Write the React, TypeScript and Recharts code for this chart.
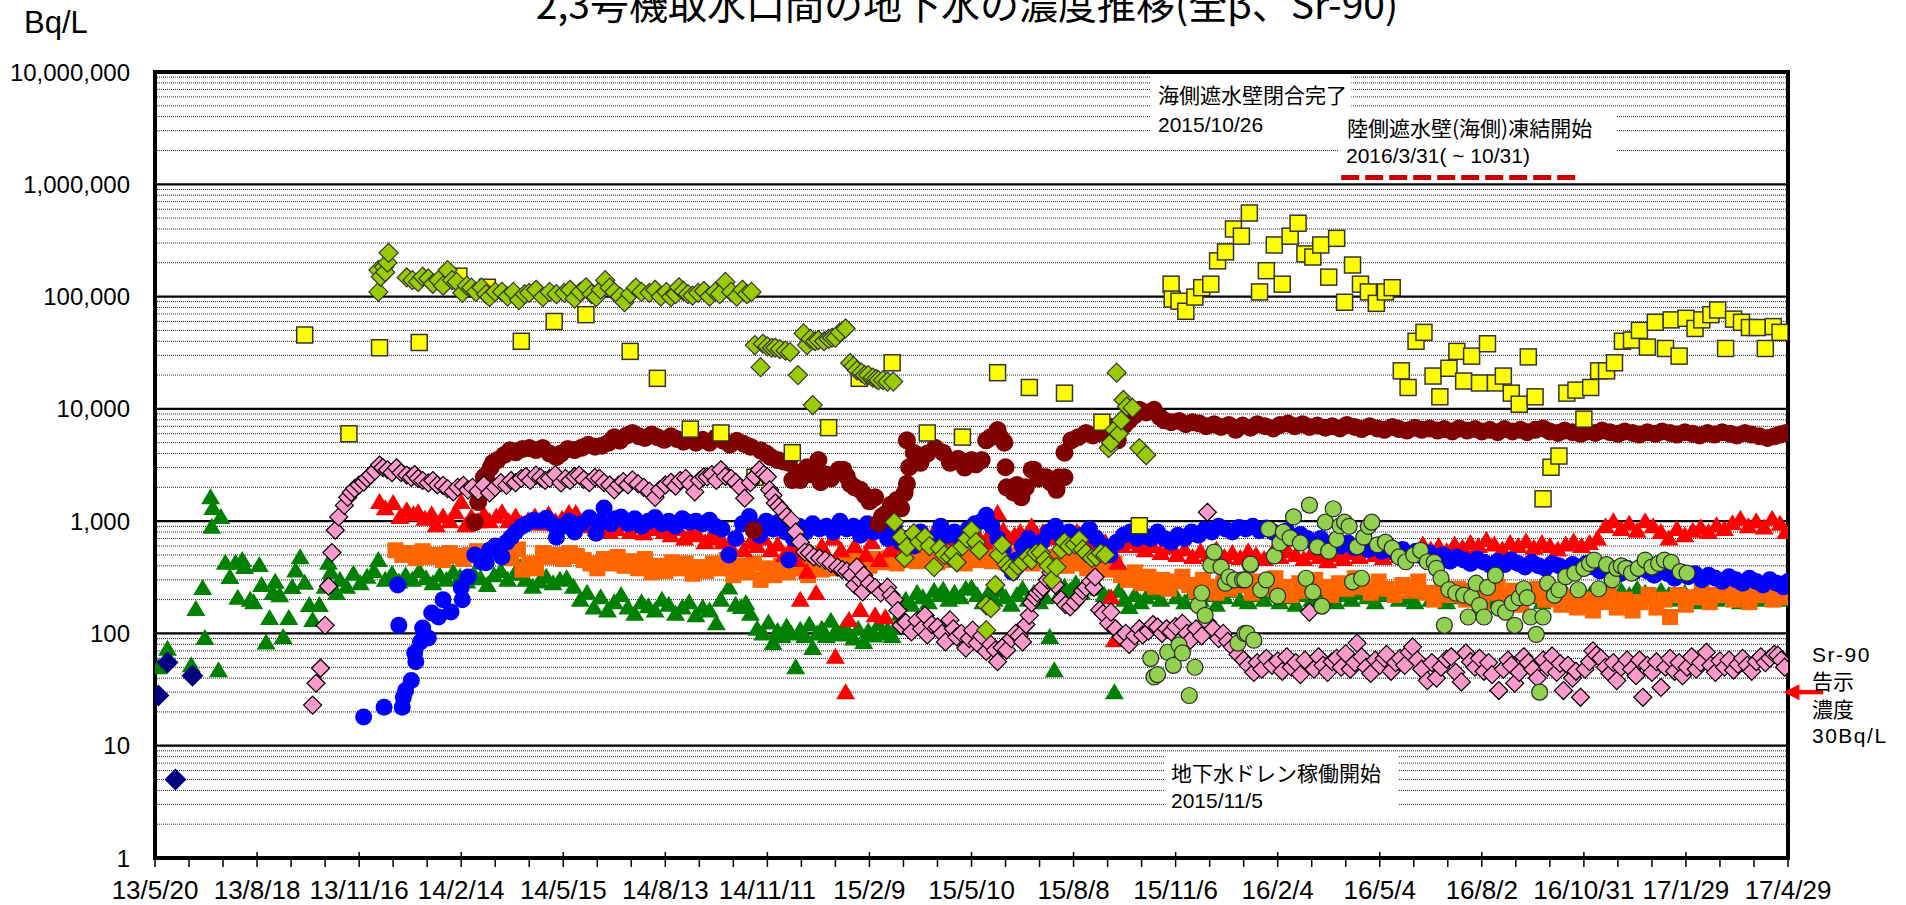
import {
  ScatterChart,
  Scatter,
  XAxis,
  YAxis,
  CartesianGrid,
  ReferenceArea,
  ReferenceLine,
} from "recharts"

// x = days since 2013/5/20, y = Bq/L
const xLabels = ["13/5/20", "13/8/18", "13/11/16", "14/2/14", "14/5/15", "14/8/13", "14/11/11", "15/2/9", "15/5/10",
  "15/8/8", "15/11/6", "16/2/4", "16/5/4", "16/8/2", "16/10/31", "17/1/29", "17/4/29"]
const dayTicks = Array.from({ length: 49 }, (_, i) => i * 30)
const decades = [1, 10, 100, 1000, 10000, 100000, 1000000]
const yTicks = [...decades.flatMap((d) => [1, 2, 3, 4, 5, 6, 7, 8, 9].map((m) => m * d)), 10000000]

const navyPts = [[3, 28], [11, 55], [18, 5], [33, 42]]

const greenPts = [[3, 50], [11, 73], [32, 52], [36, 165], [42, 254], [44, 91], [49, 1630], [50, 890], [51, 1310], [56, 47], [58, 1090], [62, 427], [66, 318], [71, 427], [73, 208], [77, 450], [79, 390], [84, 200], [87, 190], [92, 407], [94, 270], [98, 83], [101, 137], [104, 229], [106, 288], [110, 219], [113, 93], [118, 137], [121, 259], [124, 363], [128, 478], [132, 282], [136, 179], [139, 132], [145, 179], [150, 260], [153, 427], [155, 350], [160, 229],
  [163, 300], [169, 260], [175, 340], [181, 280], [187, 320], [193, 360], [197, 450], [203, 300], [209, 340], [215, 290], [221, 330], [227, 300], [233, 360], [239, 310], [245, 280], [251, 330], [257, 300], [263, 350], [269, 320], [275, 290], [281, 340], [287, 310], [293, 270], [299, 330], [305, 360], [311, 300], [317, 340], [322, 390], [327, 300], [333, 260], [339, 290], [345, 320], [351, 280], [357, 300], [363, 310], [369, 260],
  [375, 200], [381, 230], [387, 170], [393, 210], [399, 160], [405, 190], [411, 220], [417, 170], [423, 150], [429, 190], [435, 175], [441, 160], [447, 200], [453, 180], [459, 150], [465, 170], [471, 190], [477, 145], [483, 170], [489, 160], [495, 123], [499, 200], [506, 257], [512, 180], [517, 172], [521, 187], [525, 150],
  [531, 110], [536, 100], [541, 125], [545, 82], [549, 105], [553, 95], [557, 115], [561, 100], [565, 50], [569, 108], [573, 95], [577, 120], [580, 74], [584, 100], [588, 110], [592, 95], [596, 130], [600, 105], [604, 98], [608, 115], [612, 100], [616, 90], [620, 110], [625, 84], [629, 105], [634, 96], [638, 120], [642, 100], [646, 108], [650, 95], [653, 112],
  [657, 150], [662, 200], [667, 180], [672, 230], [677, 210], [682, 190], [687, 240], [692, 220], [695, 245], [700, 200], [705, 230], [710, 210], [715, 250], [720, 257], [725, 220], [730, 190], [735, 230], [740, 200], [745, 240], [750, 210], [755, 180], [760, 220], [765, 250], [770, 200], [775, 230], [780, 190], [785, 210], [789, 93], [793, 47], [797, 220],
  [802, 260], [807, 240], [812, 280], [817, 230], [822, 260], [827, 300], [832, 250], [837, 220], [841, 210], [846, 30], [850, 240], [855, 200], [859, 172], [864, 220], [869, 190], [874, 210], [880, 230], [887, 200], [894, 250], [901, 210], [908, 190], [915, 230], [922, 200], [929, 220], [936, 180], [943, 210], [950, 240], [957, 200], [964, 190], [971, 220], [978, 200], [985, 230], [992, 190], [999, 210],
  [1006, 180], [1013, 220], [1020, 200], [1027, 240], [1034, 210], [1041, 190], [1048, 220], [1055, 200], [1062, 230], [1069, 210], [1076, 190], [1083, 220], [1090, 240], [1097, 200], [1104, 210], [1111, 190], [1118, 230], [1125, 200], [1132, 220], [1139, 190], [1146, 210], [1153, 240], [1160, 200], [1167, 220], [1174, 190], [1181, 210], [1188, 230], [1195, 200],
  [1202, 220], [1209, 240], [1216, 210], [1223, 190], [1230, 220], [1237, 200], [1244, 230], [1251, 210], [1258, 240], [1265, 220], [1272, 250], [1279, 230], [1286, 210], [1293, 240], [1300, 220], [1307, 250], [1314, 230], [1321, 210], [1328, 240], [1335, 220], [1342, 200], [1349, 230], [1356, 210], [1363, 190], [1370, 220], [1377, 200], [1384, 230], [1391, 210], [1398, 190], [1405, 220], [1412, 200], [1419, 230], [1426, 210], [1433, 200], [1438, 220]]

const redPts = [[198, 1480], [203, 1300], [210, 1450], [216, 1090], [222, 1250], [228, 1150], [232, 1200], [238, 1050], [244, 1150], [248, 920], [254, 1100], [260, 1000], [265, 1200], [270, 1480], [274, 920], [279, 1090], [285, 1000], [290, 1150], [295, 1000], [301, 1100], [306, 1200], [312, 1000], [318, 1100], [323, 950], [329, 1020], [335, 1100], [341, 950], [347, 1150], [353, 1000], [359, 1050], [365, 1180], [371, 1180],
  [377, 900], [383, 1000], [389, 850], [395, 900], [401, 800], [407, 850], [413, 950], [419, 800], [425, 900], [431, 780], [437, 850], [443, 900], [449, 800], [455, 750], [461, 850], [467, 700], [473, 800], [479, 750], [485, 650], [490, 720],
  [495, 700], [501, 650], [507, 600], [513, 750], [519, 550], [525, 650], [531, 600], [537, 700], [543, 550], [549, 620], [555, 500], [561, 580], [566, 450], [569, 200], [575, 355], [579, 520], [583, 229], [588, 600], [593, 480], [598, 700], [600, 62], [605, 550], [609, 30], [612, 132], [617, 600], [622, 162], [627, 500], [632, 650], [635, 145], [639, 450], [644, 139], [648, 550], [652, 600],
  [657, 650], [662, 700], [667, 600], [672, 750], [677, 650], [682, 700], [687, 800], [692, 650], [697, 700], [702, 750], [707, 650], [712, 700], [717, 800], [722, 750], [727, 700], [732, 650], [737, 800], [743, 1180], [748, 830], [753, 700], [758, 750], [763, 800], [768, 700], [773, 900], [778, 750], [783, 800], [788, 700], [793, 750], [798, 850], [803, 700], [808, 750], [813, 800], [818, 700], [823, 650], [828, 750], [833, 700], [838, 650], [843, 210], [846, 87], [849, 427], [853, 600], [858, 700], [863, 650], [868, 600], [873, 550],
  [880, 600], [887, 520], [894, 580], [901, 500], [908, 560], [915, 480], [922, 540], [929, 500], [936, 560], [943, 480], [950, 520], [957, 470], [964, 540], [971, 500], [978, 460], [985, 520], [992, 480], [999, 540], [1006, 500], [1013, 460], [1020, 520], [1027, 480], [1034, 440], [1041, 500], [1048, 460], [1055, 520], [1062, 480], [1069, 540], [1076, 500], [1083, 470], [1090, 520], [1097, 490], [1104, 550], [1111, 500],
  [1118, 620], [1125, 560], [1132, 600], [1139, 540], [1146, 620], [1153, 580], [1160, 640], [1167, 600], [1174, 680], [1181, 620], [1188, 560], [1195, 640], [1202, 600], [1209, 660], [1216, 580], [1223, 640], [1230, 600], [1237, 560], [1244, 620], [1251, 660], [1258, 600], [1265, 640], [1272, 700],
  [1279, 900], [1286, 1000], [1293, 850], [1300, 950], [1307, 820], [1314, 1000], [1321, 900], [1328, 800], [1335, 700], [1342, 850], [1349, 750], [1356, 820], [1363, 880], [1370, 800], [1377, 920], [1384, 850], [1391, 960], [1398, 1050], [1405, 900], [1412, 1000], [1419, 880], [1426, 1050], [1433, 950], [1438, 800]]

const orangePts = [[212, 550], [218, 500], [224, 520], [230, 470], [236, 540], [242, 480], [248, 500], [254, 450], [260, 520], [266, 490], [272, 460], [278, 500], [284, 540], [290, 480], [296, 520], [302, 560], [308, 500], [314, 470], [320, 560], [324, 370], [330, 420], [336, 380], [342, 520], [348, 480], [354, 500], [360, 460], [366, 520], [372, 490], [378, 450], [384, 420], [390, 380], [396, 460], [402, 420], [408, 480], [414, 400], [420, 440], [426, 380], [432, 460], [438, 350], [444, 400], [450, 360], [456, 430], [462, 380], [468, 420], [474, 340], [480, 390], [486, 360],
  [492, 420], [498, 380], [504, 450], [510, 330], [516, 400], [522, 350], [528, 420], [534, 300], [540, 380], [546, 330], [552, 400], [558, 350], [564, 420], [570, 380], [576, 330], [582, 400], [588, 370], [594, 430], [600, 380], [606, 450], [612, 400], [618, 470], [624, 420], [630, 400], [636, 460], [642, 430], [648, 470], [654, 420], [660, 450],
  [666, 480], [672, 440], [678, 500], [684, 460], [690, 430], [696, 490], [702, 450], [708, 470], [714, 420], [720, 480], [726, 450], [732, 500], [738, 440], [744, 470], [750, 430], [756, 460], [762, 500], [768, 450], [774, 420], [780, 470], [786, 440], [792, 480], [798, 430], [804, 400], [810, 450], [816, 420], [822, 380], [828, 430], [834, 400], [840, 370], [846, 420],
  [852, 330], [858, 300], [864, 350], [870, 280], [876, 320], [882, 260], [888, 300], [894, 250], [900, 290], [906, 320], [912, 270], [918, 240], [924, 300], [930, 260], [936, 230], [942, 280], [948, 250], [954, 300], [960, 270], [967, 230], [974, 290], [981, 250], [988, 310], [995, 260], [1002, 220], [1009, 280], [1016, 240], [1023, 300], [1030, 260], [1037, 220], [1044, 280], [1051, 250], [1058, 310], [1065, 260], [1072, 230], [1079, 290], [1086, 250], [1093, 220], [1100, 270], [1107, 240], [1114, 290],
  [1121, 230], [1128, 200], [1135, 260], [1142, 220], [1149, 250], [1156, 200], [1163, 240], [1170, 190], [1177, 230], [1184, 260], [1191, 210], [1198, 240], [1205, 180], [1212, 220], [1219, 250], [1226, 200], [1233, 230], [1240, 180], [1247, 210], [1254, 170], [1261, 200], [1268, 160], [1275, 190], [1282, 220], [1289, 170], [1296, 200], [1303, 160], [1310, 190], [1317, 220], [1324, 170], [1331, 200], [1336, 140],
  [1343, 220], [1350, 180], [1357, 210], [1364, 240], [1371, 190], [1378, 220], [1385, 250], [1392, 200], [1399, 230], [1406, 190], [1413, 220], [1420, 250], [1427, 200], [1434, 230], [1439, 210]]

const bluePts = [[184, 18], [202, 22], [214, 270], [215, 118], [218, 22], [219, 27], [221, 31], [226, 38], [229, 67], [230, 56], [234, 84], [236, 112], [241, 91], [244, 152], [250, 140], [254, 200], [261, 155], [270, 257], [271, 200], [276, 318], [282, 500], [288, 430], [292, 427], [295, 550], [300, 600], [306, 480], [310, 650], [314, 720], [318, 800], [323, 890], [328, 950], [334, 1020], [339, 1000], [345, 1060], [350, 950], [354, 720], [360, 900], [365, 1000], [370, 800], [376, 950], [383, 1070], [389, 780], [393, 1000], [396, 1310], [402, 950], [406, 1050], [411, 1090],
  [417, 950], [423, 1050], [429, 900], [435, 1000], [441, 1080], [447, 950], [453, 1000], [459, 900], [465, 1050], [471, 980], [477, 1000], [483, 950], [489, 1020], [494, 900], [500, 850], [506, 500], [512, 700], [518, 950], [524, 1100], [528, 900], [533, 750], [539, 1000], [545, 850], [551, 1000], [556, 800], [559, 450], [563, 700], [568, 900], [574, 800], [580, 950], [586, 850], [592, 900], [598, 800], [604, 1000], [610, 850], [616, 900], [622, 750], [628, 950], [634, 800], [640, 850], [646, 700], [652, 900], [658, 650],
  [663, 700], [669, 600], [675, 800], [681, 650], [687, 700], [693, 900], [699, 750], [705, 800], [711, 650], [717, 850], [723, 950], [729, 1000], [733, 1130], [738, 900], [743, 700], [748, 550], [752, 400], [756, 350], [760, 450], [765, 600], [770, 700], [776, 550], [782, 650], [788, 800], [794, 900], [800, 700], [806, 800], [812, 650], [818, 750], [824, 850], [830, 700], [836, 600], [842, 500], [848, 650], [854, 750], [860, 800], [866, 700], [872, 750], [878, 700], [884, 800], [890, 700], [896, 650],
  [902, 750], [908, 700], [914, 800], [920, 750], [926, 850], [932, 800], [938, 900], [944, 850], [950, 800], [956, 880], [962, 850], [968, 900], [974, 820], [980, 870], [986, 800], [992, 760], [998, 820], [1004, 720], [1010, 760], [1016, 700], [1022, 650], [1028, 700], [1034, 620], [1040, 660], [1046, 600], [1052, 640], [1058, 580], [1064, 620], [1070, 560], [1076, 600], [1082, 540], [1088, 580], [1094, 520], [1100, 560], [1106, 500], [1112, 540], [1118, 480], [1124, 520], [1130, 460], [1136, 500], [1142, 440], [1148, 480],
  [1154, 450], [1160, 420], [1166, 460], [1172, 430], [1178, 400], [1184, 440], [1190, 410], [1196, 450], [1202, 420], [1208, 390], [1214, 430], [1220, 400], [1226, 380], [1232, 420], [1235, 52], [1238, 400], [1244, 370], [1250, 410], [1256, 380], [1262, 420], [1268, 390], [1274, 360], [1280, 400], [1286, 370], [1292, 340], [1298, 380], [1304, 350], [1310, 390], [1316, 360], [1322, 330], [1328, 370], [1334, 340], [1340, 310], [1346, 350], [1352, 320], [1358, 340], [1364, 300], [1370, 330], [1376, 310], [1382, 290], [1388, 320], [1394, 300], [1400, 280], [1406, 310], [1412, 290], [1418, 270], [1424, 300], [1430, 280], [1436, 260], [1440, 290]]

const pinkPts = [[139, 23], [142, 36], [146, 49], [150, 118], [153, 263], [156, 525], [159, 830], [162, 1090], [167, 1380], [170, 1630], [173, 1800], [176, 1950], [180, 2100], [184, 2220], [187, 2400], [190, 2570], [194, 2800], [198, 3160], [201, 3000], [205, 2870], [209, 2700], [213, 2990], [217, 2700], [222, 2570], [226, 2450], [229, 2600], [232, 2400], [236, 2300], [241, 2190], [245, 2300], [249, 2100], [254, 2080], [258, 1950], [263, 1820], [267, 2000], [272, 2080], [276, 1900], [280, 2000], [285, 1850], [290, 2100], [295, 1780], [300, 2000],
  [305, 2200], [310, 2080], [314, 2300], [318, 2200], [323, 2400], [327, 2500], [331, 2300], [336, 2570], [340, 2450], [344, 2300], [348, 2400], [353, 2600], [358, 2190], [362, 2400], [366, 2300], [370, 2500], [374, 2570], [378, 2350], [383, 2200], [388, 2450], [392, 2400], [396, 2200], [401, 2100], [405, 1900], [409, 2100], [413, 2250], [417, 2100], [421, 2330], [426, 2150], [431, 2000], [436, 1850], [441, 1630], [445, 1900], [450, 2100], [455, 2220], [459, 2050], [463, 2300], [468, 2400], [472, 2150], [476, 1820], [480, 2300], [484, 2480],
  [487, 2480], [491, 2600], [495, 2300], [499, 2870], [503, 2500], [508, 2400], [512, 2220], [516, 2000], [520, 1600], [525, 2200], [529, 2500], [533, 2870], [537, 2600], [540, 2480], [542, 1900], [545, 1700], [547, 1450], [550, 1350], [553, 1250], [557, 1100], [561, 1020], [565, 800], [569, 650], [573, 530], [577, 520], [581, 480], [586, 470], [591, 450], [596, 420], [602, 390], [606, 370], [610, 360], [614, 330], [617, 270], [619, 390], [622, 300], [624, 234], [625, 330], [630, 280], [635, 257], [640, 230], [646, 257], [649, 220], [652, 200], [655, 160],
  [658, 118], [662, 125], [667, 103], [672, 130], [676, 110], [679, 145], [681, 97], [685, 120], [690, 114], [694, 100], [697, 84], [701, 132], [704, 110], [707, 93], [711, 100], [715, 74], [718, 90], [721, 107], [725, 82], [729, 95], [733, 69], [737, 80], [741, 71], [743, 56], [747, 75], [751, 71], [755, 90], [759, 100], [762, 95], [765, 84], [768, 120], [771, 145], [773, 187], [776, 210], [778, 230], [781, 240], [783, 257], [787, 300], [790, 350], [794, 270], [799, 200], [803, 180], [807, 172], [811, 190], [815, 210], [818, 240], [821, 257], [825, 290], [828, 257], [829, 318],
  [833, 162], [836, 150], [841, 123], [843, 155], [847, 110], [852, 93], [856, 100], [859, 80], [864, 95], [868, 110], [871, 97], [876, 105], [880, 120], [884, 114], [888, 100], [892, 110], [896, 103], [900, 115], [906, 123], [910, 100], [913, 87], [918, 110], [923, 95], [928, 1200], [928, 126], [933, 110], [938, 90], [942, 100], [946, 85], [950, 76], [955, 65], [960, 58], [964, 52], [969, 45],
  [972, 55], [976, 48], [980, 60], [985, 52], [990, 57], [994, 46], [998, 62], [1002, 50], [1006, 55], [1010, 43], [1014, 58], [1018, 155], [1022, 48], [1026, 62], [1030, 52], [1034, 45], [1038, 56], [1042, 60], [1046, 50], [1050, 66], [1054, 48], [1058, 55], [1060, 82], [1064, 62], [1068, 50], [1072, 44], [1076, 58], [1080, 52], [1084, 60], [1086, 65], [1090, 46], [1094, 55], [1098, 60], [1102, 52], [1106, 68], [1109, 76], [1113, 58], [1117, 48], [1122, 38], [1126, 55], [1130, 40], [1134, 50], [1139, 59], [1143, 62], [1147, 45], [1152, 37], [1156, 67], [1160, 56], [1164, 50], [1168, 60], [1172, 46], [1176, 55], [1179, 43], [1185, 31], [1189, 48], [1193, 58], [1196, 52], [1199, 36],
  [1203, 45], [1207, 62], [1211, 55], [1215, 48], [1219, 40], [1224, 58], [1228, 50], [1232, 63], [1236, 45], [1239, 54], [1242, 31], [1246, 52], [1250, 40], [1253, 46], [1257, 27], [1261, 48], [1265, 56], [1268, 70], [1271, 64], [1275, 60], [1279, 50], [1283, 44], [1286, 55], [1289, 38], [1293, 50], [1298, 58], [1302, 48], [1306, 42], [1309, 58], [1312, 27], [1316, 52], [1320, 45], [1324, 56], [1328, 33], [1332, 50], [1336, 60], [1340, 46], [1344, 55], [1347, 42], [1351, 50], [1355, 62], [1359, 48], [1363, 55], [1368, 68], [1372, 52], [1376, 45], [1380, 57], [1384, 50], [1388, 58], [1392, 47], [1396, 53], [1400, 60], [1404, 52], [1408, 46], [1412, 56], [1416, 62], [1420, 55], [1424, 60], [1428, 65], [1431, 64], [1434, 58], [1437, 50]]

const darkRedPts = [[282, 980], [285, 1480], [290, 2460], [292, 2570], [296, 3000], [298, 3310], [302, 3500], [308, 3890], [313, 4270], [318, 4100], [324, 4400], [330, 4470], [336, 4300], [342, 4470], [348, 4000], [354, 3720], [358, 4000], [364, 4400], [370, 4300], [376, 4500], [382, 4800], [388, 4600], [394, 4700], [400, 5000], [405, 5600], [410, 5200], [416, 5800], [421, 6100], [427, 5700], [432, 5500], [438, 5900], [443, 5600], [449, 5300], [455, 5700], [460, 5400], [466, 5100], [471, 5400], [477, 5000], [483, 5300], [489, 5000], [495, 5600], [501, 5200], [507, 4800], [513, 5200], [519, 4900], [525, 4600], [528, 830],
  [534, 4270], [539, 4000], [543, 3720], [549, 3500], [554, 3400], [559, 3310], [562, 2320], [566, 2700], [569, 2320], [575, 3020], [580, 2600], [585, 3500], [587, 2220], [592, 2600], [596, 2400], [603, 2870], [607, 2870], [610, 2500], [613, 2150], [617, 2000], [622, 1900], [626, 1700], [630, 1500], [635, 1630], [638, 960], [641, 1100], [645, 1180], [649, 1400], [654, 1540], [658, 1300], [661, 1780], [663, 2150],
  [663, 5250], [665, 3020], [669, 4070], [675, 3310], [681, 4000], [688, 4500], [695, 4070], [701, 3310], [708, 3600], [714, 3000], [720, 3500], [724, 3200], [729, 3500], [733, 5250], [737, 5600], [743, 6480], [746, 5500], [749, 5000], [750, 3020], [751, 2000], [757, 1800], [760, 2100], [764, 1630], [768, 2000], [773, 2870], [775, 2870], [779, 2400], [783, 2460], [786, 2460], [790, 2200], [795, 1900], [797, 2460], [802, 2460],
  [802, 4070], [808, 5250], [814, 5600], [821, 6100], [827, 5800], [833, 6100], [838, 6500], [843, 6900], [849, 5250], [855, 7200], [859, 7900], [864, 8800], [868, 9800], [874, 9300], [881, 9800], [886, 8500], [890, 7900], [896, 7600], [903, 7800], [909, 7300], [915, 7600], [921, 7400], [927, 7000], [934, 7300], [940, 6900], [947, 7200], [953, 6500], [959, 7100], [966, 6800], [972, 7300], [979, 7000], [986, 6700], [992, 7200], [999, 7400],
  [1005, 7000], [1012, 7300], [1018, 6900], [1025, 7100], [1032, 6800], [1038, 7000], [1045, 6700], [1051, 7200], [1058, 6900], [1064, 6600], [1071, 7000], [1078, 6700], [1084, 6500], [1091, 6900], [1097, 6600], [1104, 6400], [1111, 6800], [1117, 6500], [1124, 6700], [1131, 6400], [1137, 6600], [1144, 6300], [1150, 6700], [1157, 6400], [1164, 6600], [1170, 6300], [1177, 6500], [1184, 6200], [1190, 6600], [1197, 6300],
  [1204, 6500], [1210, 6200], [1217, 6500], [1224, 6700], [1230, 6300], [1237, 6100], [1243, 6400], [1250, 6200], [1257, 6000], [1263, 6300], [1270, 6100], [1276, 6400], [1283, 6200], [1290, 6000], [1296, 6300], [1303, 6100], [1309, 5900], [1316, 6200], [1323, 6000], [1329, 6300], [1336, 6100], [1342, 5900], [1349, 6200], [1356, 6000], [1362, 5800], [1369, 6100], [1375, 5900], [1382, 6200], [1389, 6000], [1395, 5800], [1402, 6100], [1408, 5900], [1415, 5700], [1422, 5500], [1428, 5700], [1433, 5900], [1438, 6100]]

const ygPts = [[197, 110000], [197, 172000], [199, 150000], [202, 183000], [203, 165000], [205, 200000], [206, 245000], [222, 148000], [227, 140000], [232, 135000], [236, 150000], [241, 145000], [245, 130000], [250, 140000], [254, 125000], [258, 172000], [262, 140000], [266, 135000], [271, 108000], [275, 125000], [279, 120000], [283, 110000], [288, 120000], [292, 105000], [295, 99000], [300, 110000], [306, 110000], [311, 100000], [316, 110000], [321, 93000], [326, 105000], [330, 108000], [336, 115000], [342, 99000], [348, 110000], [354, 105000],
  [361, 108000], [366, 115000], [370, 96000], [375, 110000], [380, 121000], [385, 105000], [389, 99000], [393, 115000], [397, 140000], [401, 120000], [405, 110000], [410, 100000], [414, 89000], [419, 105000], [424, 120000], [429, 110000], [436, 108000], [441, 115000], [446, 100000], [451, 110000], [455, 99000], [459, 105000], [462, 121000], [466, 112000], [470, 105000], [474, 102000], [479, 108000], [484, 112000], [489, 100000], [494, 110000], [498, 105000], [503, 135000], [508, 110000], [513, 100000], [518, 115000], [522, 105000], [526, 110000],
  [529, 37000], [534, 23500], [536, 38000], [540, 36000], [544, 35000], [547, 35000], [551, 34000], [556, 33000], [560, 32000], [567, 20000], [572, 47000], [575, 37000], [578, 42000], [580, 10800], [582, 40000], [585, 41000], [590, 40000], [594, 42000], [597, 43000], [600, 43000], [604, 48000], [609, 52000], [613, 25600], [616, 24000], [619, 22000], [623, 21000], [626, 20000], [629, 20000], [633, 19000], [636, 18500], [638, 18000], [642, 18000], [646, 17500], [651, 17500],
  [652, 980], [658, 720], [661, 470], [663, 590], [669, 780], [674, 650], [679, 720], [683, 600], [687, 390], [692, 575], [696, 500], [701, 480], [704, 520], [707, 430], [712, 600], [716, 700], [720, 830], [724, 650], [727, 550], [733, 178], [733, 107], [737, 168], [741, 270], [744, 500], [747, 615], [751, 410], [754, 380], [757, 355], [761, 400], [765, 430], [770, 480], [773, 450], [777, 520], [781, 525], [785, 450], [788, 400], [791, 300], [795, 390], [799, 560], [802, 650], [806, 600], [811, 620], [815, 680], [818, 560], [821, 520], [826, 470], [830, 480], [834, 520], [838, 500],
  [841, 4470], [843, 5000], [846, 6480], [848, 21000], [850, 6000], [852, 7900], [854, 12000], [857, 10500], [862, 10200], [868, 4470], [874, 3870]]

const yellowPts = [[132, 45500], [171, 6000], [198, 35000], [233, 39000], [268, 152000], [293, 121000], [323, 40000], [352, 60000], [380, 69000], [419, 32500], [443, 18700], [472, 6600], [499, 6100], [529, 2460], [562, 4070], [594, 6800], [621, 18700], [650, 25700], [681, 6100], [712, 5600], [743, 21000], [771, 15500], [802, 13800], [835, 7600], [868, 910],
  [896, 129000], [897, 95000], [903, 91000], [909, 74000], [917, 99000], [923, 120000], [931, 129000], [937, 208000], [944, 250000], [951, 400000], [958, 345000], [965, 555000], [974, 110000], [980, 170000], [987, 288000], [994, 129000], [1001, 345000], [1008, 450000], [1014, 240000], [1021, 225000], [1028, 288000], [1035, 149000], [1042, 330000], [1049, 89000], [1056, 191000], [1063, 129000], [1070, 110000], [1077, 87000], [1085, 110000], [1091, 120000],
  [1099, 21800], [1105, 15500], [1112, 40000], [1119, 48000], [1127, 19600], [1133, 12800], [1141, 23000], [1148, 32500], [1154, 17700], [1161, 29500], [1168, 17000], [1175, 38000], [1182, 17000], [1189, 19600], [1196, 13800], [1203, 11000], [1211, 29000], [1217, 12800], [1224, 1580], [1231, 3020], [1238, 3800], [1245, 13800], [1253, 14700], [1260, 8100], [1266, 15500], [1273, 21800], [1280, 21800], [1287, 25700],
  [1294, 40000], [1302, 41000], [1309, 50000], [1316, 35500], [1323, 59000], [1332, 34500], [1337, 62000], [1344, 29500], [1350, 64000], [1358, 52000], [1364, 62000], [1372, 69000], [1378, 76000], [1385, 34500], [1392, 63000], [1399, 59000], [1406, 53000], [1413, 53000], [1420, 34500], [1427, 54000], [1433, 48000]]

const lightGreenPts = [[878, 60], [881, 41], [884, 43], [893, 68], [898, 52], [903, 79], [906, 67], [912, 28], [917, 50], [920, 178], [923, 229], [926, 145], [931, 405], [934, 530], [940, 390], [944, 280], [947, 318], [952, 300], [955, 82], [959, 300], [961, 100], [961, 300], [963, 100], [966, 405], [966, 415], [969, 87], [975, 245], [980, 300], [982, 850], [987, 490], [990, 215], [992, 640], [995, 800],
  [1001, 710], [1004, 1090], [1010, 640], [1015, 310], [1018, 1390], [1021, 234], [1025, 590], [1029, 175], [1032, 980], [1035, 540], [1039, 1290], [1042, 690], [1045, 910], [1049, 980], [1053, 900], [1056, 288], [1060, 590], [1064, 310], [1066, 720], [1070, 900], [1073, 980], [1078, 615], [1085, 650], [1091, 575], [1097, 480], [1103, 435], [1110, 500], [1116, 550], [1122, 435], [1128, 430], [1130, 380], [1134, 310], [1137, 118], [1141, 245], [1147, 229],
  [1154, 219], [1158, 140], [1161, 210], [1165, 280], [1168, 178], [1172, 140], [1175, 257], [1182, 330], [1185, 168], [1191, 155], [1197, 187], [1199, 118], [1203, 208], [1207, 250], [1210, 208], [1213, 140], [1218, 98], [1221, 30], [1224, 140], [1228, 280], [1234, 219], [1238, 245], [1244, 320], [1252, 345], [1255, 245], [1260, 380], [1265, 420], [1269, 450], [1273, 250], [1280, 410], [1285, 300], [1289, 380], [1293, 400], [1297, 380], [1302, 345], [1308, 380], [1314, 450], [1320, 390], [1326, 420], [1331, 450], [1337, 430], [1345, 355], [1351, 345]]

const toXY = (pts: number[][]) => pts.map(([x, y]) => ({ x, y }))

const latin = "'Liberation Sans', Arial, sans-serif"
const cjk = "'Noto Sans CJK JP', sans-serif"

const tri = (fill: string) => (p: any) => (
  <polygon points={`${p.cx},${p.cy - 9} ${p.cx + 9.5},${p.cy + 7} ${p.cx - 9.5},${p.cy + 7}`} fill={fill} />
)
const diamond = (fill: string, r: number, stroke?: string) => (p: any) => (
  <polygon
    points={`${p.cx},${p.cy - r} ${p.cx + r},${p.cy} ${p.cx},${p.cy + r} ${p.cx - r},${p.cy}`}
    fill={fill}
    stroke={stroke || "none"}
    strokeWidth={1.2}
  />
)
const square = (fill: string, s: number, stroke?: string) => (p: any) => (
  <rect x={p.cx - s / 2} y={p.cy - s / 2} width={s} height={s} fill={fill} stroke={stroke || "none"} strokeWidth={1.5} />
)
const dot = (fill: string, r: number, stroke?: string) => (p: any) => (
  <circle cx={p.cx} cy={p.cy} r={r} fill={fill} stroke={stroke || "none"} strokeWidth={1.2} />
)

const XTick = (p: any) => {
  const d = p.payload.value
  const major = d % 90 === 0
  return (
    <g>
      <line x1={p.x} x2={p.x} y1={major ? p.y - 6 : p.y + 2} y2={p.y + 9} stroke="#000" strokeWidth={1.5} />
      {major && (
        <text x={p.x} y={p.y + 41} textAnchor="middle" fontSize={26} fontFamily={latin} fill="#000">
          {xLabels[d / 90]}
        </text>
      )}
    </g>
  )
}

const YTick = (p: any) => {
  const v = p.payload.value
  if (!decades.includes(v) && v !== 10000000) return <g />
  return (
    <text x={p.x - 25} y={p.y} dy="0.36em" textAnchor="end" fontSize={24} fontFamily={latin} fill="#000">
      {v.toLocaleString("en-US")}
    </text>
  )
}

const gridLine = (p: any) => {
  const pos = ((p.y + p.height - p.y1) / p.height) * 7
  const major = Math.abs(pos - Math.round(pos)) < 0.01
  return major ? (
    <line key={p.key} x1={p.x1} x2={p.x2} y1={p.y1} y2={p.y2} stroke="#000" strokeWidth={2.2} />
  ) : (
    <line key={p.key} x1={p.x1} x2={p.x2} y1={p.y1} y2={p.y2} stroke="#222" strokeWidth={1} strokeDasharray="1 1" />
  )
}

const Arrow = (p: any) => {
  const tip = Math.min(p.x1, p.x2)
  const tail = Math.max(p.x1, p.x2)
  const y = p.y1
  return (
    <g>
      <line x1={tip + 12} x2={tail} y1={y} y2={y} stroke="#FF0000" strokeWidth={4.5} />
      <polygon points={`${tip},${y} ${tip + 16},${y - 8} ${tip + 16},${y + 8}`} fill="#FF0000" />
    </g>
  )
}

export default function App() {
  return (
    <div style={{ position: "relative", width: 1906, height: 905, background: "#fff" }}>
      <style>{`body{margin:0;overflow:hidden;background:#fff}`}</style>
      <ScatterChart width={1906} height={905} margin={{ top: 72, right: 118, bottom: 0, left: 0 }}>
        <CartesianGrid vertical={false} horizontal={gridLine} />
        <XAxis
          type="number"
          dataKey="x"
          domain={[0, 1440]}
          ticks={dayTicks}
          interval={0}
          allowDataOverflow
          height={47}
          axisLine={false}
          tickLine={false}
          tickSize={0}
          tickMargin={0}
          tick={<XTick />}
        />
        <YAxis
          type="number"
          dataKey="y"
          scale="log"
          domain={[1, 10000000]}
          ticks={yTicks}
          interval={0}
          allowDataOverflow
          width={155}
          axisLine={false}
          tickLine={false}
          tickSize={0}
          tickMargin={0}
          tick={<YTick />}
        />
        <ReferenceArea x1={878} x2={1055} y1={2480000} y2={10000000} fill="#fff" fillOpacity={1} stroke="none" />
        <ReferenceArea x1={1044} x2={1289} y1={1280000} y2={4400000} fill="#fff" fillOpacity={1} stroke="none" />
        <ReferenceArea x1={890} x2={1096} y1={2.41} y2={8.4} fill="#fff" fillOpacity={1} stroke="none" />
        <Scatter data={toXY(greenPts)} shape={tri("#008000")} isAnimationActive={false} />
        <Scatter data={toXY(orangePts)} shape={square("#FF6600", 16)} isAnimationActive={false} />
        <Scatter data={toXY(redPts)} shape={tri("#FF0000")} isAnimationActive={false} />
        <Scatter data={toXY(bluePts)} shape={dot("#0000FF", 8.5)} isAnimationActive={false} />
        <Scatter data={toXY(darkRedPts)} shape={dot("#800000", 9)} isAnimationActive={false} />
        <Scatter data={toXY(yellowPts)} shape={square("#FFFF00", 16, "#333")} isAnimationActive={false} />
        <Scatter data={toXY(pinkPts)} shape={diamond("#FF99CC", 9, "#000")} isAnimationActive={false} />
        <Scatter data={toXY(ygPts)} shape={diamond("#99CC00", 9.5, "#333")} isAnimationActive={false} />
        <Scatter data={toXY(lightGreenPts)} shape={dot("#92D050", 8, "#2a2a2a")} isAnimationActive={false} />
        <Scatter data={toXY(navyPts)} shape={diamond("#000080", 11)} isAnimationActive={false} />
        <ReferenceLine
          segment={[{ x: 1046, y: 1150000 }, { x: 1254, y: 1150000 }]}
          stroke="#CC0000"
          strokeWidth={5}
          strokeDasharray="18 6"
        />
        <ReferenceLine segment={[{ x: 1436, y: 30 }, { x: 1471, y: 30 }]} ifOverflow="visible" shape={Arrow} />
        <ReferenceArea x1={0} x2={1440} y1={1} y2={10000000} fill="none" stroke="#000" strokeWidth={4} />
      </ScatterChart>
      <svg width={1906} height={905} style={{ position: "absolute", left: 0, top: 0, pointerEvents: "none" }}>
        <text x={967} y={19} textAnchor="middle" fontSize={39} fontFamily={cjk} fill="#000">
          2,3号機取水口間の地下水の濃度推移(全β、Sr-90)
        </text>
        <text x={24} y={33} fontSize={31} fontFamily={latin} fill="#000">Bq/L</text>
        <text x={1158} y={103} fontSize={21} fontFamily={cjk} fill="#000">海側遮水壁閉合完了</text>
        <text x={1158} y={132} fontSize={21} fontFamily={latin} fill="#000">2015/10/26</text>
        <text x={1347} y={136} fontSize={21} fontFamily={cjk} fill="#000">陸側遮水壁(海側)凍結開始</text>
        <text x={1346} y={163} fontSize={21} fontFamily={latin} fill="#000">2016/3/31( ~ 10/31)</text>
        <text x={1171} y={781} fontSize={21} fontFamily={cjk} fill="#000">地下水ドレン稼働開始</text>
        <text x={1171} y={808} fontSize={21} fontFamily={latin} fill="#000">2015/11/5</text>
        <text x={1812} y={662} fontSize={21} fontFamily={latin} letterSpacing={1.5} fill="#000">Sr-90</text>
        <text x={1812} y={689} fontSize={21} fontFamily={cjk} fill="#000">告示</text>
        <text x={1812} y={717} fontSize={21} fontFamily={cjk} fill="#000">濃度</text>
        <text x={1812} y={743} fontSize={21} fontFamily={latin} letterSpacing={1.5} fill="#000">30Bq/L</text>
      </svg>
    </div>
  )
}
